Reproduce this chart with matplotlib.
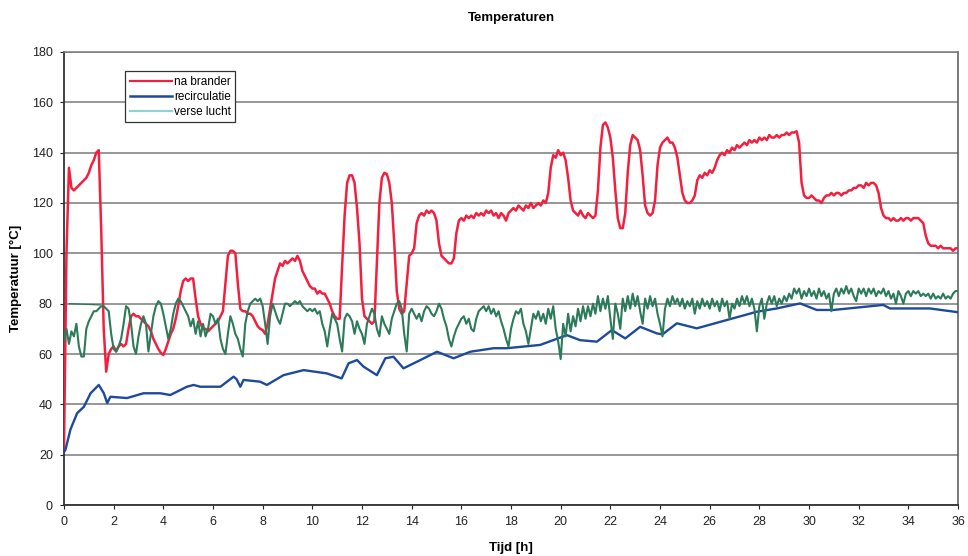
import numpy as np
import matplotlib
matplotlib.use("Agg")
import matplotlib.pyplot as plt
from matplotlib.lines import Line2D

plt.rcParams['font.family'] = ['Liberation Sans', 'DejaVu Sans']

# Sampling grid of the logged burner / fresh-air temperatures (every 0.1 h)
step_h = 0.1

# Temperature after the burner, one row per hour (0.1 h apart)
burner_temp = [
    22, 100, 134, 126, 125, 126, 127, 128, 129, 130,
    132, 135, 137, 140, 141, 109, 70, 53, 60, 62,
    63, 61, 63, 64, 63, 64, 70, 75, 76, 75,
    75, 74, 73, 72, 71, 69, 66, 64, 62, 60.5,
    59.6, 62, 65, 68, 70, 74, 79, 85, 89, 90,
    89, 90, 90, 82, 75, 72, 70, 70, 69, 70,
    71, 72, 73, 75, 77, 88, 99, 101, 101, 100,
    88, 78, 77, 77, 76, 76, 75, 73, 71, 70,
    69.5, 68, 72, 78, 84, 90, 93, 96, 95, 97,
    96, 97, 98, 97, 99, 97, 93, 91, 89, 87,
    86, 86, 84, 85, 84, 84, 82, 80, 77, 75,
    74, 74, 95, 115, 128, 131, 131, 128, 118, 104,
    82, 75, 74, 73, 72, 73, 96, 120, 130, 132,
    131.5, 128, 120, 104, 85, 78, 76, 77, 88, 99,
    100, 102, 112, 115, 116, 115, 117, 116, 117, 116,
    113, 104, 99, 98, 97, 96, 96, 98, 108, 113,
    114, 113, 115, 114, 115, 114, 116, 115, 116, 115,
    117, 116, 117, 115, 116, 114, 116, 115, 113, 116,
    117, 118, 117, 119, 118, 117, 119, 118, 120, 118,
    119, 120, 119, 121, 120, 124, 134, 139, 138, 141,
    139, 140, 137, 130, 121, 117, 116, 115, 117, 115,
    114, 116, 115, 114, 115, 125, 142, 151, 152, 150,
    146, 138, 125, 114, 110, 110, 116, 132, 143, 147,
    146, 145, 141, 131, 119, 116, 115, 116, 121, 135,
    142, 144, 145, 146, 144, 144, 142, 138, 131, 124,
    121, 120, 120, 121, 123, 129, 131, 130, 132, 131,
    133, 132, 134, 137, 139, 140, 139, 141, 140, 142,
    141, 143, 142, 143, 144, 143, 145, 144, 145, 144,
    146, 145, 146, 145, 147, 146, 146, 147, 146, 147,
    147, 148, 147, 148, 148, 148.5, 144, 128, 123, 122,
    122, 123, 122, 121, 121, 120, 122, 123, 123, 124,
    123, 124, 124, 123, 124, 124, 125, 125, 126, 126,
    127, 127, 126, 128, 127, 128, 128, 127, 124, 118,
    115, 114, 114, 113, 114, 113, 113, 114, 113, 114,
    114, 113, 114, 114, 114, 113, 112, 107, 104, 103,
    103, 103, 102, 103, 102, 102, 102, 102, 101, 102,
    102,
]

# Fresh-air temperature, same 0.1 h grid
fresh_temp = [
    65, 70, 64, 69, 67, 72, 63, 59, 59, 70,
    73, 75, 77, 77, 78, 79, 79, 78, 77, 68,
    62, 61, 63, 66, 72, 79, 78, 72, 63, 60,
    67, 72, 75, 72, 61, 68, 75, 79, 81, 80,
    76, 71, 66, 70, 76, 80, 82, 81, 79, 77,
    75, 71, 74, 68, 73, 67, 72, 67, 70, 76,
    75, 72, 74, 66, 62, 60, 68, 75, 72, 68,
    66, 62, 59, 72, 77, 80, 81, 82, 81, 82,
    79, 72, 64, 75, 80, 77, 74, 72, 76, 80,
    80, 79, 80, 81, 80, 81, 79, 78, 77, 78,
    77, 78, 76, 77, 72, 69, 63, 70, 76, 74,
    72, 66, 61, 74, 76, 75, 73, 68, 73, 70,
    68, 64, 72, 75, 78, 76, 70, 67, 75, 72,
    70, 68, 74, 77, 80, 81, 78, 68, 61, 76,
    78, 76, 74, 76, 73, 77, 79, 78, 76, 75,
    77, 80, 78, 74, 71, 66, 63, 67, 70, 72,
    74, 75, 72, 74, 70, 69, 74, 77, 78, 79,
    77, 79, 76, 78, 75, 77, 73, 70, 66, 63,
    70, 74, 77, 76, 78, 72, 69, 64, 70, 76,
    74, 77, 73, 76, 72, 78, 74, 79, 70, 65,
    58, 72, 67, 76, 69, 75, 71, 78, 73, 79,
    74, 79, 75, 80, 76, 83, 77, 82, 78, 83,
    74, 66, 80, 76, 70, 82, 77, 83, 78, 84,
    79, 83, 77, 72, 82, 78, 83, 79, 82, 76,
    72, 67, 78, 82, 79, 83, 80, 82, 79, 82,
    78, 81, 79, 82, 76, 81, 78, 82, 79, 81,
    78, 82, 79, 81, 77, 82, 79, 81, 74, 80,
    78, 82, 79, 83, 80, 83, 79, 82, 78, 69,
    79, 82, 74, 80, 83, 80, 83, 79, 82, 80,
    83, 81, 84, 82, 86, 84, 86, 82, 85, 83,
    86, 83, 85, 82, 86, 83, 85, 82, 84, 77,
    84, 86, 83, 86, 84, 87, 84, 86, 83, 81,
    86, 84, 86, 83, 86, 84, 86, 83, 85, 84,
    86, 83, 85, 82, 84, 80, 85, 83, 80, 84,
    85, 83, 85, 84, 85, 83, 84, 83, 84, 82,
    84, 82, 83, 82, 84, 82, 83, 82, 84, 85,
    85,
]

# Short start-up segment of the fresh-air logger
fresh_start_t = [0.22, 1.45]
fresh_start_v = [80, 79.5]

# Recirculation temperature (smooth, logged at irregular times)
recirc_t = [0, 0.06, 0.26, 0.53, 0.8, 1.07, 1.4, 1.6, 1.74, 1.87, 2.54, 3.2,
            3.88, 4.28, 4.95, 5.22, 5.49, 6.3, 6.83, 6.95, 7.1, 7.23, 7.9,
            8.17, 8.84, 9.65, 10.58, 11.18, 11.46, 11.8, 12.06, 12.6, 12.94,
            13.27, 13.67, 14.35, 15.02, 15.69, 16.36, 17.3, 17.83, 19.17,
            19.7, 20.25, 20.78, 21.46, 22.06, 22.6, 23.2, 23.87, 24.1, 24.68,
            25.48, 26.69, 27.9, 28.7, 29.64, 30.31, 30.98, 32.99, 33.26,
            34.87, 36.0]
recirc_v = [21, 22, 30, 36.5, 39, 44.4, 47.7, 44.5, 40.5, 43, 42.5, 44.4,
            44.4, 43.7, 47, 47.7, 47, 47, 51, 50, 47, 49.7, 49,
            47.7, 51.6, 53.6, 52.3, 50.3, 56.3, 57.6, 55, 51.6, 58.3,
            58.9, 54.3, 57.6, 60.9, 58.3, 60.9, 62.3, 62.3, 63.6,
            65.5, 67.5, 65.5, 64.9, 69.5, 66.2, 70.8, 68.2, 67.8, 72.2,
            70.2, 73.5, 76.8, 78.1, 80.1, 77.5, 77.5, 79.5, 78.1,
            78.1, 76.6]

x_ticks = list(range(0, 37, 2))
y_ticks = list(range(0, 181, 20))
series_labels = ["na brander", "recirculatie", "verse lucht"]

red = "#f2203f"
blue = "#1d4a9c"
green = "#2b7a5a"
cyan_legend = "#8fd3d6"

grid_t = np.arange(len(burner_temp)) * step_h

fig = plt.figure(figsize=(9.68, 5.56), dpi=100)
ax = fig.add_axes([0.0661, 0.0917, 0.9236, 0.8148])

ax.plot(grid_t, burner_temp, color=red, lw=1.8, zorder=3)
ax.plot(recirc_t, recirc_v, color=blue, lw=1.7, zorder=4)
ax.plot(fresh_start_t, fresh_start_v, color=green, lw=0.9, zorder=5)
ax.plot(grid_t, fresh_temp, color=green, lw=1.5, zorder=5)

ax.set_xlim(0, 36)
ax.set_ylim(0, 180)
ax.set_xticks(x_ticks)
ax.set_yticks(y_ticks)
ax.tick_params(axis='both', direction='out', length=3, width=0.8,
               labelsize=9, colors='#222222', pad=5)

ax.yaxis.grid(True, color='#7a7a7a', lw=1.1)
ax.set_axisbelow(True)
for side in ('left', 'bottom'):
    ax.spines[side].set_color('#333333')
    ax.spines[side].set_linewidth(1.3)
ax.spines['top'].set_color('#7a7a7a')
ax.spines['top'].set_linewidth(1.1)
ax.spines['right'].set_color('#555555')
ax.spines['right'].set_linewidth(1.1)

ax.set_title("Temperaturen", fontsize=9.5, fontweight='bold', pad=22)
ax.set_xlabel("Tijd [h]", fontsize=9.5, fontweight='bold', labelpad=10)
ax.set_ylabel("Temperatuur [°C]", fontsize=9.5, fontweight='bold', labelpad=7)

handles = [Line2D([], [], color=red, lw=1.6),
           Line2D([], [], color=blue, lw=1.8),
           Line2D([], [], color=cyan_legend, lw=1.6)]
leg = ax.legend(handles, series_labels, loc='upper left',
                bbox_to_anchor=(0.068, 0.958), fontsize=8.5, frameon=True,
                fancybox=False, edgecolor='#333333', framealpha=1,
                handlelength=3.6, handletextpad=0.15, borderpad=0.4,
                labelspacing=0.25, borderaxespad=0)
leg.get_frame().set_linewidth(0.9)

fig.savefig("out.png", dpi=100)
